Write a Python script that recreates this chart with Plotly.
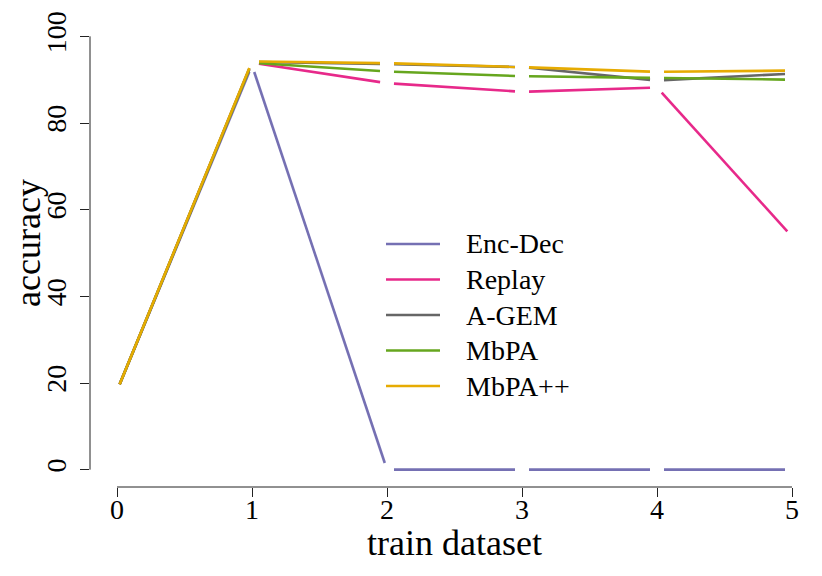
import numpy as np
import plotly.graph_objects as go

datasets = [0, 1, 2, 3, 4, 5]
series_names = ["Enc-Dec", "Replay", "A-GEM", "MbPA", "MbPA++"]
enc_dec = [18.2, 93.3, 0.0, 0.0, 0.0, 0.0]
replay = [18.2, 93.9, 89.2, 87.2, 88.2, 53.8]
a_gem = [18.2, 94.1, 93.6, 92.9, 89.8, 91.4]
mbpa = [18.2, 93.9, 91.9, 90.8, 90.4, 90.0]
mbpa_pp = [18.2, 94.2, 93.8, 92.9, 91.8, 92.1]
colors = ["#7570B3", "#E7298A", "#666666", "#66A61E", "#E6AB02"]

# the page body adds an 8px margin, so the figure is 8px smaller each way
OFF = 8
W, H = 822 - OFF, 576 - OFF
M = dict(l=90 - OFF, r=3, t=19 - OFF, b=89)
PW, PH = W - M["l"] - M["r"], H - M["t"] - M["b"]
X_RANGE = [-0.2, 5.2]
Y_RANGE = [-4, 104]
PX = PW / (X_RANGE[1] - X_RANGE[0])
PY = PH / (Y_RANGE[1] - Y_RANGE[0])
GAP = 7.0  # pixels left open round each point (R type="c")
FONT = "Liberation Serif, Times New Roman, serif"


def px_to_paper(x, y):
    # page pixel position -> paper coordinates
    return (x - OFF - M["l"]) / PW, (H - M["b"] - (y - OFF)) / PH


def gapped(xs, ys):
    # split into segments, each trimmed by GAP pixels at both ends
    out_x, out_y = [], []
    for i in range(len(xs) - 1):
        dx, dy = xs[i + 1] - xs[i], ys[i + 1] - ys[i]
        f = GAP / np.hypot(dx * PX, dy * PY)
        out_x += [xs[i] + f * dx, xs[i + 1] - f * dx, None]
        out_y += [ys[i] + f * dy, ys[i + 1] - f * dy, None]
    return out_x, out_y


fig = go.Figure()
for name, ys, c in zip(series_names, [enc_dec, replay, a_gem, mbpa, mbpa_pp], colors):
    gx, gy = gapped(datasets, ys)
    fig.add_trace(go.Scatter(x=gx, y=gy, mode="lines", name=name,
                             line=dict(color=c, width=2.6), showlegend=False))

# axis lines only over the data range, like base R
fig.add_shape(type="line", xref="x", yref="paper", x0=0, x1=5, y0=0, y1=0,
              line=dict(color="#222", width=1))
fig.add_shape(type="line", xref="paper", yref="y", x0=0, x1=0, y0=0, y1=100,
              line=dict(color="#222", width=1))

# legend drawn by hand, no box
leg_y = [244, 279.5, 315, 350.5, 386]
for name, c, py in zip(series_names, colors, leg_y):
    x0, yp = px_to_paper(386, py)
    x1, _ = px_to_paper(440, py)
    xt, _ = px_to_paper(464, py)
    fig.add_shape(type="line", xref="paper", yref="paper", x0=x0, x1=x1, y0=yp, y1=yp,
                  line=dict(color=c, width=2.6))
    fig.add_annotation(xref="paper", yref="paper", x=xt, y=yp, text=name, showarrow=False,
                       xanchor="left", yanchor="middle", font=dict(size=28, color="black", family=FONT))

# axis titles
tx, ty = px_to_paper(454, 543)
fig.add_annotation(xref="paper", yref="paper", x=tx, y=ty, text="train dataset", showarrow=False,
                   xanchor="center", yanchor="middle", font=dict(size=36, color="black", family=FONT))
ax_, ay_ = px_to_paper(28, 243)
fig.add_annotation(xref="paper", yref="paper", x=ax_, y=ay_, text="accuracy", showarrow=False,
                   textangle=-90, xanchor="center", yanchor="middle",
                   font=dict(size=36, color="black", family=FONT))

fig.update_layout(
    width=W, height=H, margin=M,
    plot_bgcolor="white", paper_bgcolor="white",
    font=dict(family=FONT, color="black", size=28),
    xaxis=dict(range=X_RANGE, tickvals=datasets, showgrid=False, zeroline=False, showline=False,
               ticks="outside", ticklen=9, tickcolor="#222", automargin=False,
               tickfont=dict(size=28), ticklabelstandoff=-12),
    yaxis=dict(range=Y_RANGE, tickvals=[0, 20, 40, 60, 80, 100], showgrid=False, zeroline=False,
               showline=False, ticks="outside", ticklen=9, tickcolor="#222", tickangle=-90,
               automargin=False, tickfont=dict(size=28), ticklabelstandoff=3),
)

fig.write_html("out.html")
